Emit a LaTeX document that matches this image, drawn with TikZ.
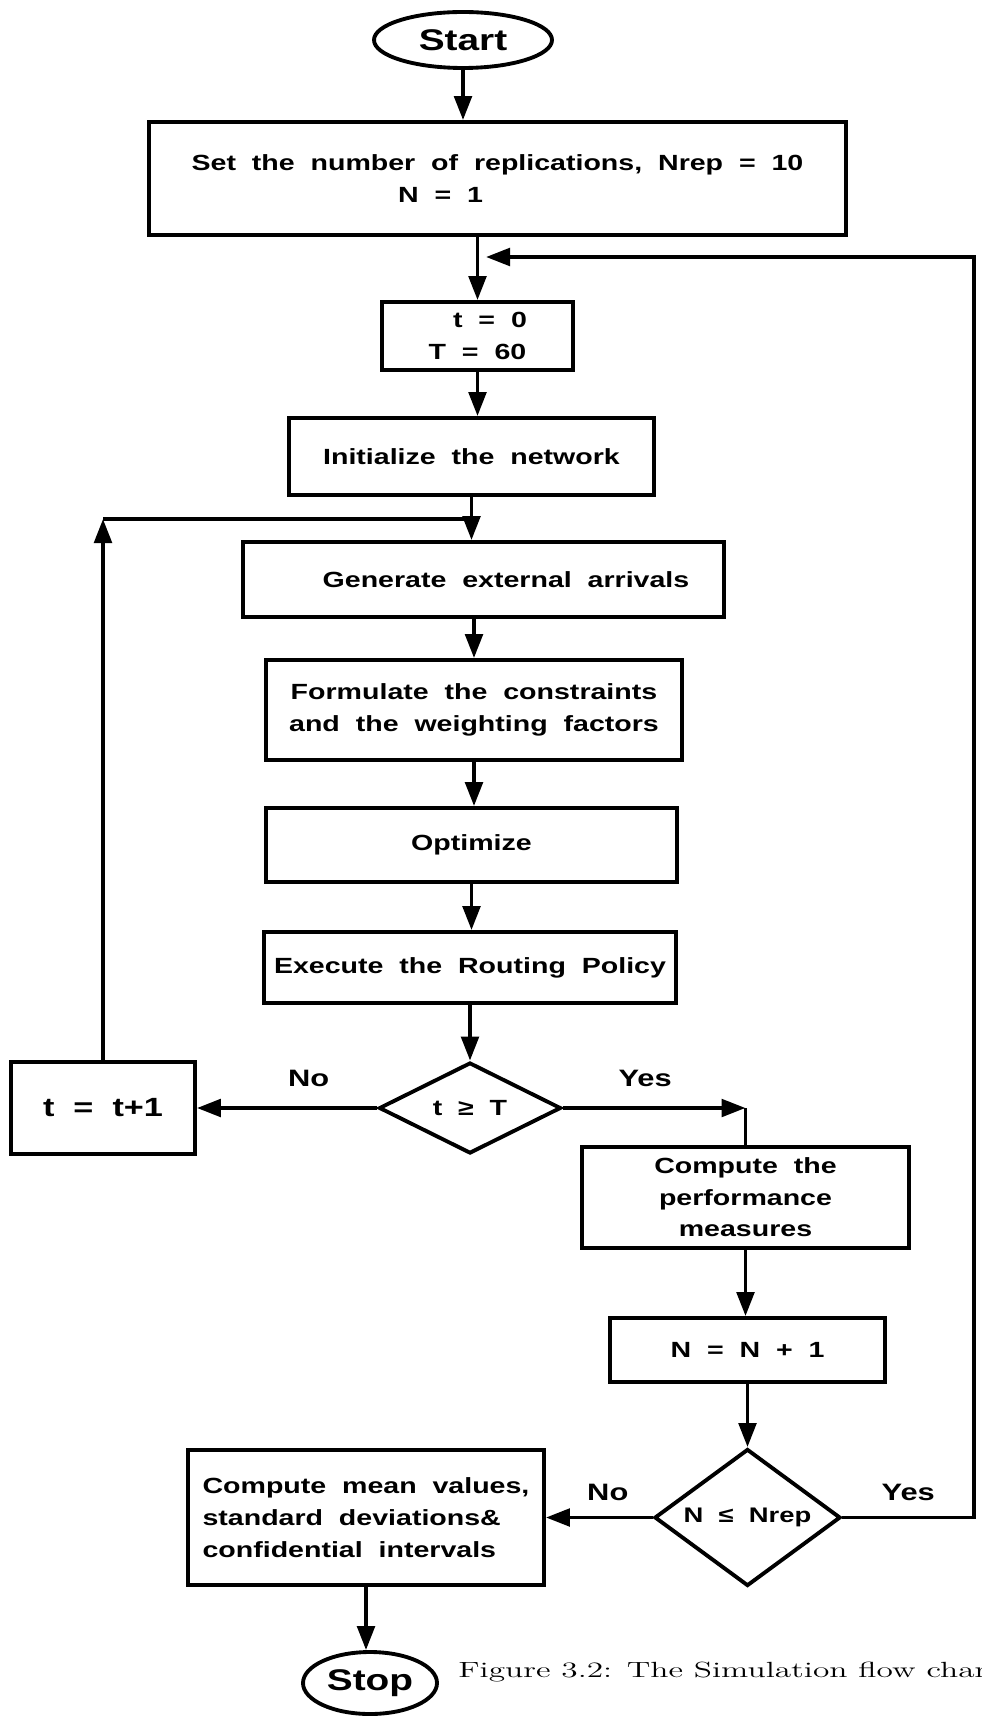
\documentclass[tikz,border=0pt]{standalone}
\usepackage{fontspec}
\usetikzlibrary{arrows.meta,shapes.geometric}
\newfontfamily\chartfont[FakeStretch=1.3,WordSpace=2]{Liberation Sans}
\newfontfamily\capfont[FakeStretch=1.52,Extension=.otf]{lmroman12-regular}
\tikzset{
  terminal/.style={ellipse,draw,line width=2.2pt,inner sep=0pt,
    font=\chartfont\bfseries\fontsize{17}{20}\selectfont},
  process/.style={rectangle,draw,line width=2.2pt,align=center,inner sep=0pt,
    font=\chartfont\bfseries\fontsize{12.5}{18}\selectfont},
  decision/.style={diamond,draw,line width=2.2pt,inner sep=0pt,
    font=\chartfont\bfseries\fontsize{12.5}{18}\selectfont},
  arrow/.style={-{Triangle[length=4.8mm,width=3.5mm]},line width=2.2pt},
  link/.style={line width=2.2pt},
  edge/.style={font=\chartfont\bfseries\fontsize{13.5}{16}\selectfont,inner sep=0pt}
}
\begin{document}
\begin{tikzpicture}[x=1cm,y=1cm]
  \useasboundingbox (0,0) rectangle (19.62,-34.42);
  \node[terminal,minimum width=3.56cm,minimum height=1.12cm] (start) at (9.26,-0.80) {Start};
  \node[process,minimum width=13.94cm,minimum height=2.26cm] (setrep) at (9.95,-3.57)
    {Set the number of replications, Nrep = 10\\N = 1\hspace*{2.28cm}};
  \node[process,minimum width=3.82cm,minimum height=1.36cm] (tinit) at (9.55,-6.72)
    {\hspace*{0.5cm}t = 0\\T = 60};
  \node[process,minimum width=7.30cm,minimum height=1.54cm] (initnet) at (9.43,-9.13)
    {Initialize the network};
  \node[process,minimum width=9.62cm,minimum height=1.50cm] (genarr) at (9.67,-11.59)
    {\hspace*{0.9cm}Generate external arrivals};
  \node[process,minimum width=8.32cm,minimum height=2.00cm] (formul) at (9.48,-14.20)
    {Formulate the constraints\\and the weighting factors};
  \node[process,minimum width=8.22cm,minimum height=1.48cm] (optim) at (9.43,-16.90) {Optimize};
  \node[process,minimum width=8.24cm,minimum height=1.42cm] (execpol) at (9.40,-19.35)
    {Execute the Routing Policy};
  \node[decision,aspect=2,minimum width=3.64cm,minimum height=1.82cm] (tcheck) at (9.40,-22.16) {t ≥ T};
  \node[process,minimum width=3.68cm,minimum height=1.84cm,
    font=\chartfont\bfseries\fontsize{15}{18}\selectfont] (tinc) at (2.06,-22.16) {t = t+1};
  \node[process,minimum width=6.54cm,minimum height=2.02cm] (perf) at (14.91,-23.95)
    {Compute the\\performance\\measures};
  \node[process,minimum width=5.50cm,minimum height=1.28cm] (ninc) at (14.95,-27.00) {N = N + 1};
  \node[decision,aspect=1.36,minimum width=3.72cm,minimum height=2.74cm,
    font=\chartfont\bfseries\fontsize{12}{18}\selectfont] (ncheck) at (14.95,-30.35) {N ≤ Nrep};
  \node[process,align=left,minimum width=7.12cm,minimum height=2.70cm] (stats) at (7.32,-30.35)
    {Compute mean values,\\standard deviations\&\\confidential intervals};
  \node[terminal,minimum width=2.68cm,minimum height=1.24cm] (stop) at (7.40,-33.66) {Stop};
  \node[anchor=base west,inner sep=0pt,font=\capfont\fontsize{12.5}{15}\selectfont] (caption) at (9.16,-33.54)
    {Figure 3.2: The Simulation flow chart};
  \coordinate (lcorner) at (2.06,-10.38);
  \coordinate (rbot) at (19.48,-30.35);
  \coordinate (rtop) at (19.48,-5.14);
  \coordinate (rjoin) at (9.72,-5.14);
  \draw[arrow] (start) -- (start |- setrep.north);
  \draw[arrow] (setrep.south -| tinit) -- (tinit);
  \draw[arrow] (tinit) -- (tinit |- initnet.north);
  \draw[arrow] (initnet) -- (initnet |- genarr.north);
  \draw[arrow] (genarr.south -| formul) -- (formul);
  \draw[arrow] (formul) -- (formul |- optim.north);
  \draw[arrow] (optim) -- (optim |- execpol.north);
  \draw[arrow] (execpol) -- (tcheck);
  \draw[arrow] (tcheck) -- node[edge,above=0.39cm,pos=0.38]{No} (tinc);
  \draw[arrow] (tinc) -- (lcorner);
  \draw[link] (lcorner) -- (lcorner -| initnet);
  \draw[arrow] (tcheck) -- node[edge,above=0.39cm,pos=0.45]{Yes} (perf |- tcheck);
  \draw[link] (perf |- tcheck) -- (perf);
  \draw[arrow] (perf) -- (perf |- ninc.north);
  \draw[arrow] (ninc) -- (ncheck);
  \draw[arrow] (ncheck) -- node[edge,above=0.29cm,pos=0.42]{No} (stats);
  \draw[arrow] (ncheck) -- node[edge,above=0.29cm]{Yes} (rbot) -- (rtop) -- (rjoin);
  \draw[arrow] (stats) -- (stats |- stop.north);
\end{tikzpicture}
\end{document}
